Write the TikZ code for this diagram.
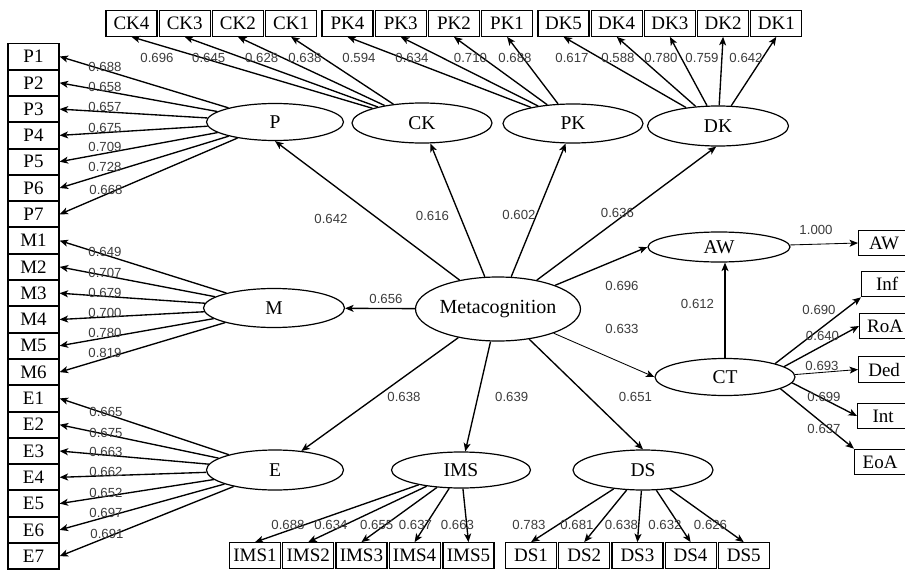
\documentclass[tikz,border=0pt]{standalone}
\usepackage{fontspec}
\setmainfont{Liberation Serif}
\newfontfamily\numfont{Liberation Sans}
\usetikzlibrary{shapes.geometric,arrows.meta}
\definecolor{numgray}{RGB}{60,60,60}

\tikzset{
  ind/.style={draw, line width=1.2pt, minimum width=51, minimum height=25.5,
    inner sep=0pt, font=\fontsize{19}{21}\selectfont},
  lat/.style={draw, ellipse, line width=1.2pt, minimum width=140,
    minimum height=38, inner sep=0pt, font=\fontsize{19.5}{21}\selectfont},
  arr/.style={-{Stealth[length=8.5pt,width=7pt,inset=2.2pt]}, line width=1.35pt},
  thinarr/.style={arr, line width=0.85pt},
  num/.style={font=\numfont\fontsize{13.2}{15}\selectfont, text=numgray,
    inner sep=0pt},
}

\begin{document}
\begin{tikzpicture}[x=1pt, y=-1pt]
    \useasboundingbox (0,0) rectangle (905,570);

    % latent variables
    \node[lat, minimum width=164, minimum height=64,
      font=\fontsize{20}{22}\selectfont] (Meta) at (498,309) {Metacognition};
    \node[lat, minimum width=137, minimum height=37] (P) at (275,122) {P};
    \node[lat, minimum height=40] (CK) at (422,123) {CK};
    \node[lat, minimum height=39] (PK) at (573,123.5) {PK};
    \node[lat, minimum width=141, minimum height=40] (DK) at (718,126) {DK};
    \node[lat, minimum width=141, minimum height=39] (M) at (274,308) {M};
    \node[lat, minimum width=137, minimum height=40] (E) at (275,470) {E};
    \node[lat, minimum width=139, minimum height=36] (IMS) at (461,470) {IMS};
    \node[lat, minimum height=40] (DS) at (643,470) {DS};
    \node[lat, minimum width=142, minimum height=30] (AW) at (719,247) {AW};
    \node[lat, minimum height=37] (CT) at (725,377) {CT};

    % indicators: left column
    \foreach \n [count=\i from 0] in {P1,P2,P3,P4,P5,P6,P7,M1,M2,M3,M4,M5,M6,
      E1,E2,E3,E4,E5,E6,E7}
      \node[ind] (\n) at (33.5,56.5+26.3*\i) {\n};

    % indicators: top row
    \foreach \n/\x in {CK4/131.5,CK3/184.7,CK2/237.9,CK1/291.1,
      PK4/347.5,PK3/400.7,PK2/453.9,PK1/507.1,
      DK5/563.5,DK4/616.7,DK3/669.9,DK2/723.1,DK1/776.3}
      \node[ind] (\n) at (\x,23.5) {\n};

    % indicators: bottom row
    \foreach \n/\x in {IMS1/255,IMS2/308.2,IMS3/361.4,IMS4/414.6,IMS5/468.5,
      DS1/531,DS2/584.2,DS3/637.4,DS4/690.6,DS5/743.8}
      \node[ind] (\n) at (\x,555.5) {\n};

    % indicators: right column
    \node[ind, anchor=west] (AWo) at (858,243) {AW};
    \node[ind, anchor=west] (Inf) at (861,284) {Inf};
    \node[ind, anchor=west] (RoA) at (859,326) {RoA};
    \node[ind, anchor=west] (Ded) at (858,369.5) {Ded};
    \node[ind, anchor=west] (Int) at (857,416) {Int};
    \node[ind, anchor=west] (EoA) at (854,462) {EoA};

    % structural paths
    \draw[arr] (Meta) -- (P.south);
    \draw[arr] (Meta) -- (CK);
    \draw[arr] (Meta) -- (PK.250);
    \draw[arr] (Meta) -- (DK.265);
    \draw[arr] (Meta) -- (M);
    \draw[arr] (Meta) -- (AW.west);
    \draw[thinarr] (Meta) -- (CT.west);
    \draw[arr] (Meta) -- (E);
    \draw[arr] (Meta) -- (IMS);
    \draw[arr] (Meta) -- (DS.north);
    \draw[arr] (CT.north) -- (CT.north |- AW.south);

    % loadings
    \foreach \n in {P1,P2,P3,P4,P5,P6,P7} \draw[arr] (P) -- (\n.east);
    \foreach \n in {M1,M2,M3,M4,M5,M6} \draw[arr] (M) -- (\n.east);
    \foreach \n in {E1,E2,E3,E4,E5,E6,E7} \draw[arr] (E) -- (\n.east);
    \foreach \n in {CK1,CK2,CK3,CK4} \draw[arr] (CK) -- (\n.south);
    \foreach \n in {PK1,PK2,PK3,PK4} \draw[arr] (PK) -- (\n.south);
    \foreach \n in {DK1,DK2,DK3,DK4,DK5} \draw[arr] (DK) -- (\n.south);
    \foreach \n in {IMS1,IMS2,IMS3,IMS4,IMS5} \draw[arr] (IMS) -- (\n.north);
    \foreach \n in {DS1,DS2,DS3,DS4,DS5} \draw[arr] (DS) -- (\n.north);
    \draw[thinarr] (AW) -- (AWo.west);
    \draw[arr] (CT.15) -- (Inf.south west);
    \draw[arr] (CT.10) -- (RoA.west);
    \draw[thinarr] (CT.2) -- (Ded.west);
    \draw[arr] (CT.-5) -- (Int.west);
    \draw[arr] (CT.-12) -- (EoA.north west);

    % coefficients
    \foreach \v/\x/\y [count=\k] in {
      0.696/157/58, 0.645/208.7/58, 0.628/261.7/58, 0.638/305/58,
      0.594/359/58, 0.634/412/58, 0.710/470.5/58, 0.688/515/58,
      0.617/572/58, 0.588/618/58, 0.780/661/58, 0.759/702/58, 0.642/746/58,
      0.688/105/67, 0.658/105/87, 0.657/105/107, 0.675/105/128,
      0.709/105/147, 0.728/105/167, 0.668/106/190,
      0.649/105/252, 0.707/105/273, 0.679/105/293, 0.700/105/313,
      0.780/105/333, 0.819/105/353,
      0.665/106/412, 0.675/106/433, 0.663/106/452, 0.662/106/472,
      0.652/106/493, 0.697/106/513, 0.691/107/534,
      0.688/288/525, 0.634/331/525, 0.655/376.7/525, 0.637/415.5/525,
      0.663/457.5/525, 0.783/529/525, 0.681/577/525, 0.638/621.5/525,
      0.632/665/525, 0.626/710.5/525,
      0.642/331/219, 0.616/432.5/216, 0.602/519/215, 0.636/617.5/213,
      0.656/386/299, 0.696/622/286, 0.633/622/329, 0.638/404/397,
      0.639/511.7/397, 0.651/635.5/397, 0.612/697.5/304, 1.000/816/230,
      0.690/819/310, 0.640/822.5/335.7, 0.693/822/365.7, 0.699/824/396.7,
      0.637/824/429}
      \node[num] (w\k) at (\x,\y) {\v};
\end{tikzpicture}
\end{document}
